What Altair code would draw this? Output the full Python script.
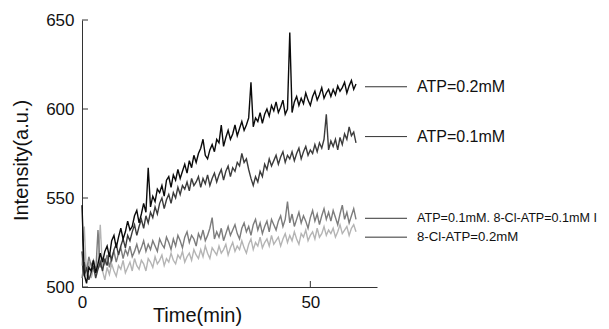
import altair as alt
import pandas as pd

# sampling times (min), one reading every 0.5 min from 0 to 60
time_min = [i * 0.5 for i in range(121)]

atp_02 = [546, 507, 502, 511, 509, 515, 508, 513, 519, 514,
          520, 523, 517, 526, 529, 522, 528, 533, 527, 531,
          537, 532, 534, 540, 543, 536, 541, 547, 542, 567,
          545, 551, 548, 555, 553, 557, 551, 560, 562, 556,
          563, 560, 566, 561, 565, 569, 564, 571, 567, 574,
          570, 575, 578, 583, 574, 572, 577, 580, 576, 583,
          581, 591, 579, 584, 588, 583, 586, 591, 585, 589,
          593, 588, 591, 595, 615, 590, 595, 593, 598, 592,
          597, 600, 596, 602, 599, 604, 598, 601, 605, 597,
          600, 643, 598, 604, 607, 602, 606, 603, 609, 605,
          602, 607, 610, 605, 608, 612, 606, 609, 611, 607,
          611, 608, 613, 610, 612, 615, 609, 613, 616, 611, 614]

atp_01 = [520, 506, 511, 504, 508, 512, 505, 510, 514, 509,
          516, 512, 519, 515, 521, 524, 518, 523, 527, 522,
          529, 526, 531, 535, 529, 534, 538, 533, 540, 536,
          542, 539, 545, 541, 547, 550, 544, 549, 552, 547,
          553, 550, 556, 552, 557, 555, 559, 554, 561, 557,
          559, 562, 556, 561, 558, 563, 557, 561, 564, 559,
          563, 566, 560, 565, 568, 562, 567, 565, 570, 568,
          575, 570, 572, 566, 561, 557, 562, 559, 565, 562,
          569, 566, 572, 568, 571, 574, 569, 573, 576, 570,
          574, 572, 576, 571, 575, 578, 572, 576, 579, 574,
          577, 575, 580, 576, 581, 578, 583, 597, 577, 582,
          579, 583, 577, 584, 580, 586, 583, 590, 585, 587, 581]

atp_cl = [505, 514, 509, 517, 512, 515, 508, 532, 511, 516,
          513, 518, 511, 517, 520, 514, 519, 522, 516, 521,
          518, 523, 517, 520, 524, 519, 522, 526, 520, 524,
          521, 526, 523, 520, 527, 524, 522, 528, 525, 521,
          527, 523, 529, 526, 522, 528, 531, 525, 529, 527,
          523, 530, 527, 532, 526, 529, 533, 539, 527, 531,
          528, 533, 526, 530, 534, 529, 532, 535, 530, 527,
          533, 536, 531, 534, 529, 535, 538, 532, 536, 530,
          534, 537, 531, 538, 535, 532, 537, 540, 534, 538,
          548, 536, 541, 534, 538, 542, 536, 540, 537, 533,
          539, 543, 537, 541, 535, 540, 544, 538, 542, 537,
          543, 539, 535, 541, 546, 538, 542, 536, 540, 544, 538]

cl_02 = [512, 534, 506, 514, 505, 510, 507, 513, 535, 509,
         504, 511, 507, 513, 509, 506, 512, 510, 515, 508,
         511, 514, 509, 516, 512, 510, 515, 513, 509, 516,
         514, 511, 517, 513, 515, 518, 512, 516, 514, 519,
         515, 513, 518, 516, 520, 514, 517, 519, 515, 521,
         518, 516, 521, 517, 523, 519, 516, 522, 520, 518,
         523, 519, 521, 524, 518, 522, 525, 520, 523, 521,
         526, 522, 519, 524, 527, 521, 525, 523, 528, 522,
         525, 527, 523, 529, 524, 526, 528, 523, 527, 530,
         525, 529, 526, 531, 527, 524, 530, 528, 532, 526,
         529, 531, 527, 533, 528, 530, 534, 529, 532, 530,
         533, 528, 531, 535, 530, 532, 534, 529, 533, 535, 531]

series_names = ["8-Cl-ATP=0.2mM", "ATP=0.1mM. 8-Cl-ATP=0.1mM I", "ATP=0.1mM", "ATP=0.2mM"]
series_values = [cl_02, atp_cl, atp_01, atp_02]
series_colors = ["#b4b4b4", "#7c7c7c", "#3c3c3c", "#0a0a0a"]

label_names = ["ATP=0.2mM", "ATP=0.1mM", "ATP=0.1mM. 8-Cl-ATP=0.1mM I", "8-Cl-ATP=0.2mM"]
label_y = [612.5, 584.5, 538.6, 528.0]
label_size = [16, 16, 12.6, 13.2]

y_ticks = [500, 550, 600, 650]
x_ticks = [0, 50]

rows = []
for name, vals in zip(series_names, series_values):
    for t, v in zip(time_min, vals):
        rows.append({"series": name, "t": t, "v": v})
df = pd.DataFrame(rows)

W, H = 295, 267
xs = alt.Scale(domain=[0, 64.6], nice=False, zero=False)
ys = alt.Scale(domain=[500, 650], nice=False, zero=False)

FONT = "Liberation Sans"

layers = []
for name, col in zip(series_names, series_colors):
    layers.append(
        alt.Chart(df).transform_filter(alt.datum.series == name)
        .mark_line(color=col, strokeWidth=1.4)
        .encode(
            x=alt.X("t:Q", scale=xs,
                    axis=alt.Axis(values=x_ticks, ticks=False, grid=False, title="Time(min)",
                                  labelPadding=7, labelFlush=False, titleX=115, titleY=34,
                                  titleBaseline="alphabetic", format="d")),
            y=alt.Y("v:Q", scale=ys,
                    axis=alt.Axis(values=y_ticks, ticks=False, grid=False, title="Intensity(a.u.)",
                                  labelPadding=8, labelFlush=False, titlePadding=14, titleY=140)),
        )
    )

ytick_df = pd.DataFrame({"v": y_ticks})
xtick_df = pd.DataFrame({"t": [x for x in x_ticks if x > 0]})
ytick_layer = alt.Chart(ytick_df).mark_rule(color="#333333", strokeWidth=1).encode(
    y=alt.Y("v:Q", scale=ys), x=alt.value(0), x2=alt.value(6))
xtick_layer = alt.Chart(xtick_df).mark_rule(color="#333333", strokeWidth=1).encode(
    x=alt.X("t:Q", scale=xs), y=alt.value(H), y2=alt.value(H - 6))

lab_df = pd.DataFrame({"name": label_names, "y": label_y, "size": label_size})
leader = alt.Chart(lab_df).mark_rule(color="#333333", strokeWidth=1).encode(
    y=alt.Y("y:Q", scale=ys), x=alt.value(283), x2=alt.value(325))
texts = alt.Chart(lab_df).mark_text(align="left", baseline="middle", font=FONT, color="#111111").encode(
    y=alt.Y("y:Q", scale=ys), x=alt.value(335), text="name:N",
    size=alt.Size("size:Q", scale=None, legend=None))

chart = alt.layer(*layers, ytick_layer, xtick_layer, leader, texts).properties(
    width=W, height=H,
    background="white",
    autosize=alt.AutoSizeParams(type="none"),
    padding={"left": 74, "top": 12, "right": 224, "bottom": 42},
).configure_view(stroke=None).configure_axis(
    domainColor="#333333", domainWidth=1,
    labelFont=FONT, labelFontSize=17, labelColor="#111111",
    titleFont=FONT, titleFontSize=20, titleFontWeight="normal", titleColor="#111111",
)

chart.save("out.html", embed_options={"renderer": "svg", "actions": False})
